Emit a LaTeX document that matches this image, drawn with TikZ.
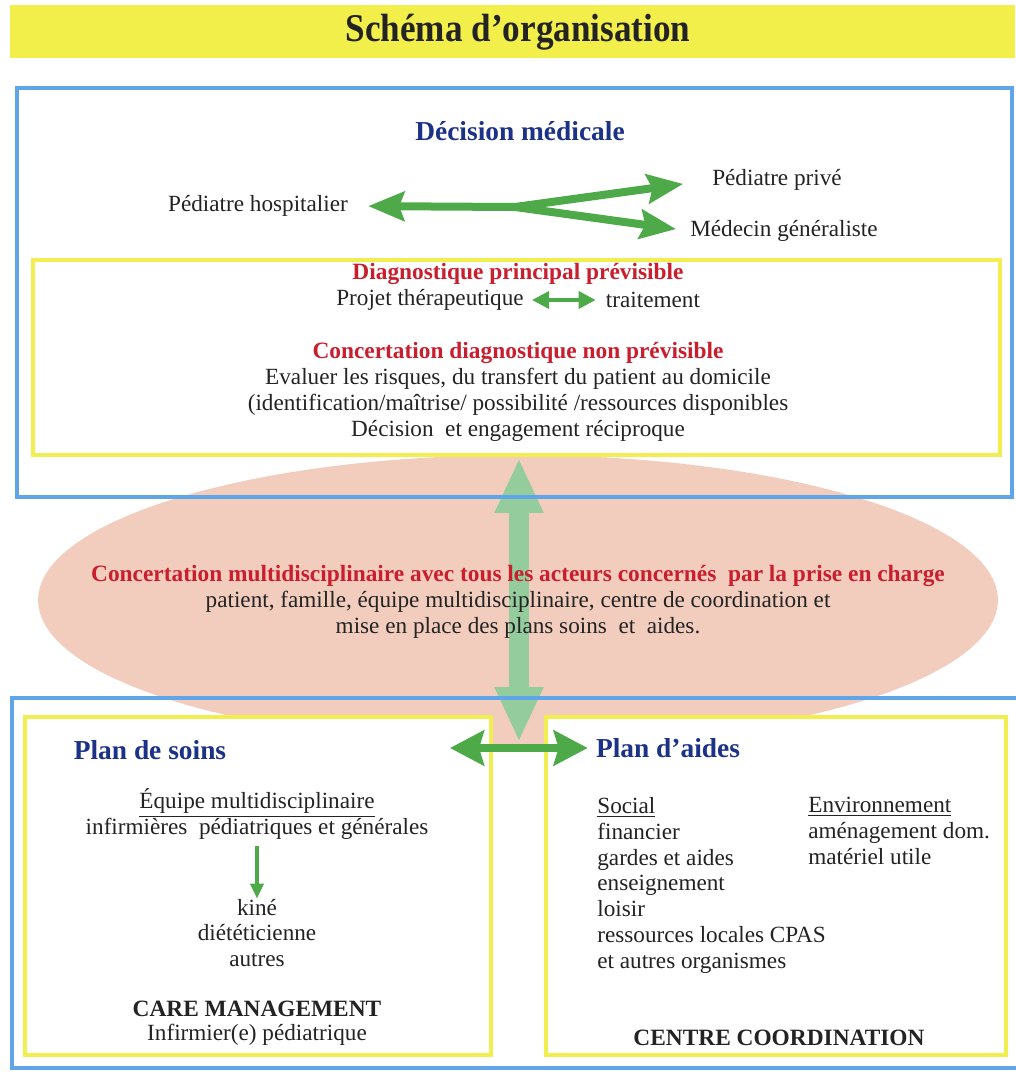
\documentclass[tikz,border=0pt]{standalone}
\usepackage{fontspec}
\usepackage{graphicx}
\setmainfont{Liberation Serif}
\usetikzlibrary{arrows.meta,positioning,shapes.geometric}
\definecolor{titleyellow}{RGB}{242,238,74}
\definecolor{frameblue}{RGB}{95,165,232}
\definecolor{frameyellow}{RGB}{242,238,80}
\definecolor{headblue}{RGB}{28,50,135}
\definecolor{headred}{RGB}{200,30,45}
\definecolor{textgray}{RGB}{35,35,35}
\definecolor{arrowgreen}{RGB}{78,170,72}
\definecolor{palegreen}{RGB}{148,204,158}
\definecolor{salmon}{RGB}{242,205,190}
\tikzset{
        txtnode/.style={align=center,inner sep=0pt,text=textgray,font=\fontsize{13.2}{14.7}\selectfont},
        % Titles of the boxes
        head_blue/.style={txtnode, text=headblue, font=\fontsize{15.6}{17}\selectfont\bfseries},
        head_red/.style={txtnode, text=headred, font=\fontsize{13.3}{14.7}\selectfont\bfseries},
        head_black/.style={txtnode, font=\fontsize{13.3}{14.7}\selectfont\bfseries},
        % Frames
        frame_blue/.style={draw=frameblue, line width=0.08cm},
        frame_yellow/.style={draw=frameyellow, line width=0.08cm},
        % Arrows
        arrow_top/.style={draw=arrowgreen, line width=0.16cm},
        arrow_thin/.style={draw=arrowgreen, line width=0.07cm},
        arrow_big/.style={draw=palegreen, line width=0.4cm},
        tiptop/.tip={Stealth[length=0.72cm,width=0.58cm,inset=0.1cm]},
        tipmid/.tip={Stealth[length=0.68cm,width=0.7cm,inset=0.1cm]}
}
\begin{document}
\begin{tikzpicture}[x=0.02cm, y=-0.02cm]
            \useasboundingbox (0,0) rectangle (1015,1072);
            % Title bar
            \fill[titleyellow] (10,5) rectangle (1015,58);
            \node[txtnode, font=\fontsize{20}{22}\selectfont\bfseries] (title) at (518,32) {\scalebox{1}[1.12]{Schéma d’organisation}};

            % Ellipse and vertical arrow behind the frames
            \node[ellipse, fill=salmon, minimum width=19.2cm, minimum height=5.8cm, inner sep=0pt] (concert) at (518,600) {};
            \coordinate (vtop) at (519,458);
            \coordinate (vbot) at (519,742);
            \draw[arrow_big, {Triangle[length=1.1cm,width=0.9cm,fill=palegreen]}-{Triangle[length=1.1cm,width=0.9cm,fill=palegreen]}] (vtop) -- (vbot);

            % Frames
            \draw[frame_blue] (17,88) rectangle (1012,497);
            \draw[frame_yellow] (33,260) rectangle (1000,455);
            \draw[frame_blue] (12,698) rectangle (1040,1068);
            \draw[frame_yellow, fill=white] (25,717) rectangle (491,1055);
            \draw[frame_yellow, fill=white] (546,717) rectangle (1006,1055);

            % Decision medicale
            \node[head_blue] (decision) at (520,131) {Décision médicale};
            \node[txtnode] (hosp) at (258,206) {Pédiatre hospitalier};
            \node[txtnode] (prive) at (777,180) {Pédiatre privé};
            \node[txtnode] (generaliste) at (784,231) {Médecin généraliste};
            \coordinate (split) at (515,207);
            \draw[arrow_top, {tiptop}-, shorten <=0.4cm] (hosp.east) -- (split);
            \draw[arrow_top, -{tiptop}, shorten >=0.58cm] (split) -- (prive.west);
            \draw[arrow_top, -{tiptop}, shorten >=0.28cm] (split) -- (generaliste.west);

            % Diagnostique
            \node[head_red] (diag) at (518,274) {Diagnostique principal prévisible};
            \node[txtnode] (projet) at (430,300) {Projet thérapeutique};
            \node[txtnode] (traitement) at (653,300) {traitement};
            \draw[arrow_thin, {Triangle[length=0.34cm,width=0.34cm]}-{Triangle[length=0.34cm,width=0.34cm]}, shorten <=0.16cm, shorten >=0.2cm] (projet.east) -- (traitement.west);
            \node[head_red] (nonprev) at (518,353) {Concertation diagnostique non prévisible};
            \node[txtnode] (risques) at (518,405) {Evaluer les risques, du transfert du patient au domicile\\(identification/maîtrise/ possibilité /ressources disponibles\\Décision~ et engagement réciproque};

            % Concertation multidisciplinaire
            \node[head_red] (multi) at (518,576) {Concertation multidisciplinaire avec tous les acteurs concernés~ par la prise en charge};
            \node[txtnode] (acteurs) at (518,615) {patient, famille, équipe multidisciplinaire, centre de coordination et\\mise en place des plans soins~ et~ aides.};

            % Plan de soins
            \node[head_blue] (soins) at (150,750) {Plan de soins};
            \node[head_blue] (aides) at (668,748) {Plan d’aides};
            \coordinate (hleft) at (450,748);
            \draw[arrow_top, {tipmid}-{tipmid}, shorten >=0.16cm] (hleft) -- (aides.west);
            \node[txtnode] (equipe) at (257,803) {\underline{Équipe multidisciplinaire}};
            \node[txtnode] (infirm) at (257,829) {infirmières~ pédiatriques et générales};
            \node[txtnode] (kine) at (257,933) {kiné\\diététicienne\\autres};
            \draw[arrow_thin, -{Triangle[length=0.3cm,width=0.26cm]}, shorten <=0.12cm] (infirm.south) -- (kine.north);
            \node[head_black] (care) at (257,1009) {CARE MANAGEMENT};
            \node[txtnode] (infped) at (257,1035) {Infirmier(e) pédiatrique};

            % Plan d'aides
            \node[txtnode, align=left, anchor=north west] (social) at (597,797) {\underline{Social}\\financier\\gardes et aides\\enseignement\\loisir\\ressources locales CPAS\\et autres organismes};
            \node[txtnode, align=left, anchor=north west] (environ) at (808,797) {\underline{Environnement}\\aménagement dom.\\matériel utile};
            \node[head_black] (centre) at (779,1038) {CENTRE COORDINATION};
\end{tikzpicture}
\end{document}
